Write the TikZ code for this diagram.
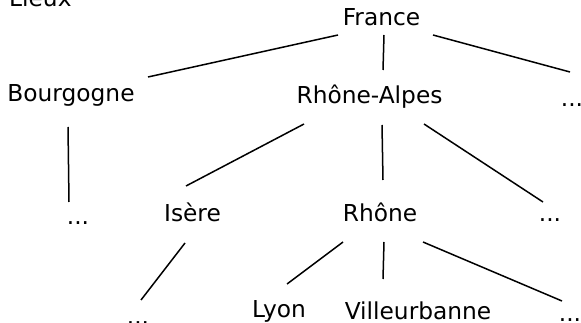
\documentclass[tikz,border=0pt]{standalone}
\usepackage{fontspec}
\setmainfont{DejaVu Sans}
\usetikzlibrary{calc}
\begin{document}
\begin{tikzpicture}[x=1pt,y=-1pt,
  lbl/.style={inner sep=0pt,anchor=base,font=\fontsize{23.3}{27}\selectfont},
  edge/.style={line width=1.5pt,black}]
\useasboundingbox (0,0) rectangle (581,323);
\node[lbl,anchor=base west] (lieux) at (9,7) {Lieux};
\node[lbl] (france) at (381.5,25.5) {France};
\node[lbl] (bourgogne) at (71,101.5) {Bourgogne};
\node[lbl] (ra) at (369.5,103.5) {Rhône-Alpes};
\node[lbl] (dotsR) at (572,107) {...};
\node[lbl] (dotsB) at (78,225) {...};
\node[lbl] (isere) at (192.5,222) {Isère};
\node[lbl] (rhone) at (380,222) {Rhône};
\node[lbl] (dotsRh) at (550,222) {...};
\node[lbl] (dotsI) at (138,324) {...};
\node[lbl] (lyon) at (279,317) {Lyon};
\node[lbl] (vill) at (418,319) {Villeurbanne};
\node[lbl] (dotsFR) at (570,321) {...};
\draw[edge] ($(france.base)+(-43.5,9.5)$) -- ($(bourgogne.base)+(77,-24.5)$);
\draw[edge] ($(france.base)+(2.5,9.5)$) -- ($(ra.base)+(13.5,-33.5)$);
\draw[edge] ($(france.base)+(51.5,9.5)$) -- ($(dotsR.base)+(-2,-35)$);
\draw[edge] ($(bourgogne.base)+(-3,25.5)$) -- ($(dotsB.base)+(-9,-23)$);
\draw[edge] ($(ra.base)+(-65.5,20.5)$) -- ($(isere.base)+(-6.5,-36)$);
\draw[edge] ($(ra.base)+(12.5,21.5)$) -- ($(rhone.base)+(3,-42)$);
\draw[edge] ($(ra.base)+(54.5,20.5)$) -- ($(dotsRh.base)+(-7,-20)$);
\draw[edge] ($(isere.base)+(-7.5,21)$) -- ($(dotsI.base)+(3,-24)$);
\draw[edge] ($(rhone.base)+(-37,20)$) -- ($(lyon.base)+(8,-33)$);
\draw[edge] ($(rhone.base)+(4,20)$) -- ($(vill.base)+(-35,-40)$);
\draw[edge] ($(rhone.base)+(43,20)$) -- ($(dotsFR.base)+(-8,-20)$);
\end{tikzpicture}
\end{document}
